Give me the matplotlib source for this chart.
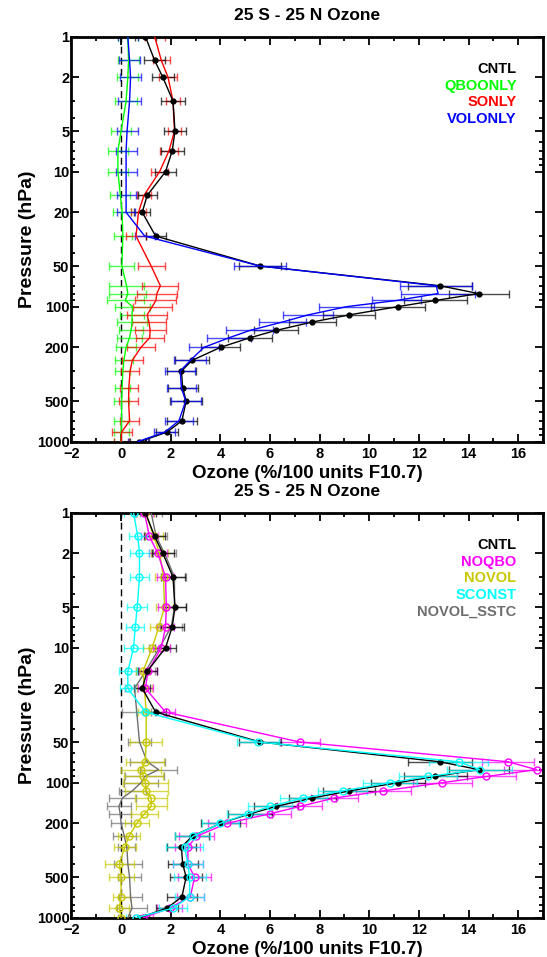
import numpy as np
import matplotlib
matplotlib.use('Agg')
import matplotlib.pyplot as plt
from matplotlib.ticker import FixedLocator, NullFormatter, MultipleLocator

plt.rcParams['font.family'] = ['Liberation Sans', 'DejaVu Sans']
plt.rcParams['font.weight'] = 'bold'

# pressure levels (hPa)
P = [1, 1.5, 2, 3, 5, 7, 10, 15, 20, 30, 50, 70, 80, 90, 100, 115, 130,
     150, 170, 200, 250, 300, 400, 500, 700, 850, 1000]

# ---- top panel ----
cntl = [0.98, 1.35, 1.68, 2.09, 2.17, 2.06, 1.79, 1.05, 0.85, 1.39, 5.6, 12.84,
        14.41, 12.66, 11.15, 9.2, 7.7, 6.24, 5.19, 4.01, 2.86, 2.43, 2.48, 2.62,
        2.45, 1.85, 0.74]
cntl_err = [0.42, 0.41, 0.44, 0.47, 0.44, 0.46, 0.44, 0.39, 0.32, 0.4, 0.85, 1.3,
            1.2, 1.28, 1.1, 1.05, 0.95, 0.9, 0.9, 0.78, 0.7, 0.6, 0.6, 0.65,
            0.6, 0.45, 0.4]
qboonly = [0.27, 0.3, 0.27, 0.2, 0.0, -0.13, -0.13, -0.03, 0.04, 0.07, 0.03, 0.22,
           0.27, 0.17, 0.46, 0.44, 0.44, 0.4, 0.34, 0.2, 0.11, 0.07, 0.04, 0.02,
           0.02, 0.0, 0.0]
qboonly_err = [0.4, 0.42, 0.42, 0.44, 0.4, 0.4, 0.4, 0.4, 0.35, 0.35, 0.5, 0.7,
               0.75, 0.75, 0.7, 0.5, 0.6, 0.5, 0.5, 0.4, 0.35, 0.3, 0.3, 0.3,
               0.3, 0.3, 0.3]
sonly = [1.35, 1.62, 1.89, 2.09, 2.15, 1.93, 1.55, 0.92, 0.70, 0.6, 1.21, 1.58,
         1.44, 1.40, 1.25, 1.05, 1.12, 1.17, 1.15, 0.8, 0.45, 0.36, 0.31, 0.3,
         0.34, 0.02, 0.0]
sonly_err = [0.4, 0.35, 0.35, 0.3, 0.25, 0.35, 0.35, 0.3, 0.3, 0.4, 0.55, 0.72,
             0.82, 0.83, 0.78, 0.8, 0.7, 0.63, 0.56, 0.56, 0.42, 0.38, 0.37,
             0.37, 0.38, 0.4, 0.3]
volonly = [0.27, 0.34, 0.38, 0.34, 0.24, 0.2, 0.2, 0.2, 0.2, 0.95, 5.59, 12.7,
           12.77, 11.1, 9.09, 7.54, 6.5, 5.19, 4.35, 3.34, 2.79, 2.38, 2.43, 2.6,
           2.33, 1.76, 0.67]
volonly_err = [0.4, 0.44, 0.44, 0.47, 0.42, 0.42, 0.42, 0.38, 0.35, 0.4, 1.04,
               1.45, 1.5, 1.0, 1.1, 1.0, 0.95, 0.95, 0.9, 0.6, 0.65, 0.6, 0.6,
               0.6, 0.55, 0.42, 0.4]

# ---- bottom panel ----
noqbo = [0.94, 1.14, 1.48, 1.79, 1.82, 1.79, 1.62, 1.08, 0.98, 1.79, 7.2, 15.58,
         16.74, 14.72, 12.95, 10.57, 8.59, 7.2, 6.0, 4.27, 3.03, 2.69, 2.69, 2.96,
         2.79, 1.95, 0.9]
noqbo_err = [0.35, 0.35, 0.35, 0.35, 0.35, 0.35, 0.35, 0.35, 0.3, 0.4, 0.8, 1.04,
             1.3, 1.2, 1.18, 1.1, 0.94, 0.9, 0.85, 0.75, 0.7, 0.5, 0.6, 0.65,
             0.55, 0.5, 0.4]
novol = [0.98, 1.32, 1.55, 1.71, 1.75, 1.52, 1.25, 0.88, 0.94, 1.01, 1.01, 0.97,
         0.81, 0.9, 0.98, 1.01, 1.21, 1.21, 0.94, 0.63, 0.31, 0.15, -0.07, 0.0,
         0.0, -0.07, 0.0]
novol_err = [0.35, 0.35, 0.35, 0.35, 0.35, 0.35, 0.35, 0.3, 0.3, 0.35, 0.64, 0.77,
             0.8, 0.8, 0.9, 0.86, 0.65, 0.63, 0.54, 0.49, 0.44, 0.45, 0.57, 0.5,
             0.34, 0.4, 0.3]
sconst = [0.5, 0.67, 0.74, 0.74, 0.65, 0.57, 0.5, 0.27, 0.27, 0.98, 5.52, 13.6,
          14.45, 12.36, 10.84, 8.93, 7.34, 6.0, 5.1, 4.0, 2.89, 2.56, 2.69, 2.76,
          2.76, 2.09, 0.6]
sconst_err = [0.4, 0.37, 0.37, 0.4, 0.4, 0.37, 0.37, 0.35, 0.3, 0.4, 0.85, 1.2,
              1.31, 1.18, 1.1, 0.98, 0.95, 0.9, 0.85, 0.75, 0.7, 0.74, 0.6,
              0.64, 0.57, 0.57, 0.4]
novol_sstc = [1.21, 1.41, 1.75, 2.15, 2.15, 2.02, 1.55, 0.98, 0.54, 0.63, 0.74,
              1.05, 1.51, 0.95, 0.8, 0.45, 0.05, -0.09, -0.04, 0.0, 0.13, 0.23,
              0.27, 0.34, 0.38, 0.44, 0.27]
novol_sstc_err = [0.45, 0.45, 0.45, 0.45, 0.45, 0.45, 0.42, 0.4, 0.4, 0.58, 0.47,
                  0.7, 0.75, 0.78, 0.7, 0.55, 0.54, 0.47, 0.44, 0.4, 0.45, 0.34,
                  0.57, 0.47, 0.47, 0.6, 0.4]

YELLOW = '#C8C800'
GRAY = '#6E6E6E'

top_series = [
    ('QBOONLY', qboonly, qboonly_err, '#00FF00', None),
    ('SONLY', sonly, sonly_err, '#FF0000', None),
    ('CNTL', cntl, cntl_err, 'black', 'o'),
    ('VOLONLY', volonly, volonly_err, '#0000FF', None),
]
top_legend = [('CNTL', 'black'), ('QBOONLY', '#00FF00'),
              ('SONLY', '#FF0000'), ('VOLONLY', '#0000FF')]

bot_series = [
    ('NOVOL_SSTC', novol_sstc, novol_sstc_err, GRAY, None),
    ('NOVOL', novol, novol_err, YELLOW, 'open'),
    ('NOQBO', noqbo, noqbo_err, '#FF00FF', 'open'),
    ('CNTL', cntl, cntl_err, 'black', 'o'),
    ('SCONST', sconst, sconst_err, '#00FFFF', 'open'),
]
bot_legend = [('CNTL', 'black'), ('NOQBO', '#FF00FF'), ('NOVOL', YELLOW),
              ('SCONST', '#00FFFF'), ('NOVOL_SSTC', GRAY)]

fig = plt.figure(figsize=(5.47, 9.57), dpi=100)
ax1 = fig.add_axes([0.1307, 0.5385, 0.862, 0.4232])
ax2 = fig.add_axes([0.1307, 0.0411, 0.862, 0.4232])


def draw_panel(ax, series, legend):
    ax.axvline(0, color='black', lw=1.0, ls=(0, (5, 3)), zorder=1)
    for name, vals, err, c, mk in series:
        ax.errorbar(vals, P, xerr=err, fmt='none', ecolor=c, elinewidth=1.0,
                    capsize=3, capthick=1.0, alpha=0.7, zorder=2)
        if mk == 'o':
            ax.plot(vals, P, '-', color=c, lw=1.0, marker='o', ms=3.5, zorder=3)
        elif mk == 'open':
            ax.plot(vals, P, '-', color=c, lw=1.0, marker='o', ms=5,
                    mfc='none', mew=1.0, zorder=3)
        else:
            ax.plot(vals, P, '-', color=c, lw=1.0, zorder=3)

    ax.set_yscale('log')
    ax.set_ylim(1000, 1)
    ax.set_xlim(-2, 17)
    major = [1, 2, 5, 10, 20, 50, 100, 200, 500, 1000]
    minor = [m * 10 ** d for d in range(3) for m in (3, 4, 6, 7, 8, 9)]
    ax.yaxis.set_major_locator(FixedLocator(major))
    ax.yaxis.set_minor_locator(FixedLocator(minor))
    ax.set_yticklabels([str(v) for v in major])
    ax.yaxis.set_minor_formatter(NullFormatter())
    ax.xaxis.set_minor_locator(MultipleLocator(1))
    ax.set_xticks(np.arange(-2, 17, 2))
    ax.tick_params(which='both', direction='in', top=True, right=True,
                   width=1.3, labelsize=10.5)
    ax.tick_params(axis='y', pad=1.5)
    ax.tick_params(axis='x', pad=4)
    ax.tick_params(which='major', length=6)
    ax.tick_params(which='minor', length=3)
    for lab in ax.get_xticklabels() + ax.get_yticklabels():
        lab.set_fontweight('bold')
    for sp in ax.spines.values():
        sp.set_linewidth(2.0)

    ax.set_title('25 S - 25 N Ozone', fontsize=12.5, fontweight='bold', pad=12)
    ax.set_xlabel('Ozone (%/100 units F10.7)', fontsize=13.5, fontweight='bold',
                  labelpad=2.5)
    ax.set_ylabel('Pressure (hPa)', fontsize=14, fontweight='bold', labelpad=0.5)

    for i, (txt, c) in enumerate(legend):
        ax.text(0.944, 0.92 - i * 0.0412, txt, color=c, transform=ax.transAxes,
                ha='right', va='center', fontsize=10.5, fontweight='bold')


draw_panel(ax1, top_series, top_legend)
draw_panel(ax2, bot_series, bot_legend)

fig.savefig('out.png', dpi=100)
plt.close()
